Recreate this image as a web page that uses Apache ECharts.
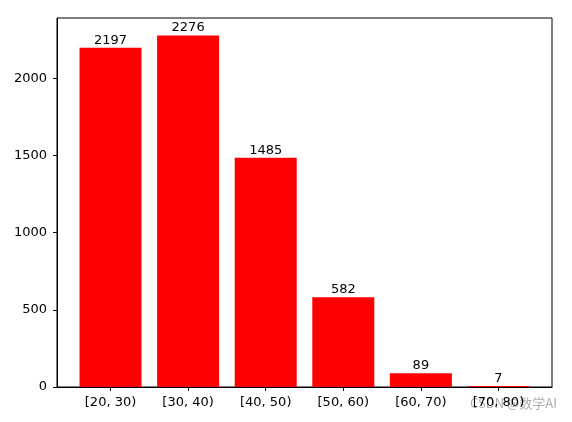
<!DOCTYPE html>
<html>
<head>
<meta charset="utf-8">
<script src="https://cdn.jsdelivr.net/npm/echarts@6/dist/echarts.min.js"></script>
<style>html,body{margin:0;padding:0;background:#fff}#c{width:572px;height:422px}</style>
</head>
<body>
<div id="c"></div>
<script>
const categories = ["[20, 30)", "[30, 40)", "[40, 50)", "[50, 60)", "[60, 70)", "[70, 80)"];
const counts = [2197, 2276, 1485, 582, 89, 7];
const yTicks = [0, 500, 1000, 1500, 2000];
const watermark = "CSDN @数学AI";

const positions = categories.map((c, i) => i);
const barData = counts.map((v, i) => [positions[i], v]);
const n = categories.length;
const xMin = -0.4 - 0.05 * (n - 1 + 0.8);
const xMax = (n - 1) + 0.4 + 0.05 * (n - 1 + 0.8);
const yMax = Math.max(...counts) * 1.05;

const font = "DejaVu Sans";
const chart = echarts.init(document.getElementById('c'), null, {renderer: 'canvas'});
chart.setOption({
  animation: false,
  backgroundColor: '#fff',
  grid: {left: 57, right: 20, top: 18, bottom: 35, show: true, borderColor: '#000', borderWidth: 1, backgroundColor: 'transparent'},
  xAxis: {
    type: 'value', min: xMin, max: xMax,
    splitLine: {show: false},
    axisLine: {show: true, onZero: false, lineStyle: {color: '#000', width: 1}},
    axisTick: {show: true, length: 4, lineStyle: {color: '#000'}, customValues: positions},
    axisLabel: {customValues: positions, margin: 9, color: '#000', fontFamily: font, fontSize: 13,
      formatter: v => categories[Math.round(v)] || ''}
  },
  yAxis: {
    type: 'value', min: 0, max: yMax,
    splitLine: {show: false},
    axisLine: {show: true, onZero: false, lineStyle: {color: '#000', width: 1}},
    axisTick: {show: true, length: 4, lineStyle: {color: '#000'}, customValues: yTicks},
    axisLabel: {customValues: yTicks, margin: 10, color: '#000', fontFamily: font, fontSize: 13,
      formatter: v => String(v)}
  },
  series: [{
    type: 'bar',
    data: barData,
    barWidth: 62,
    itemStyle: {color: '#ff0000'},
    label: {show: true, position: 'top', distance: 1, color: '#000', fontFamily: font, fontSize: 13,
      formatter: p => String(p.value[1])}
  }],
  graphic: [{
    type: 'text', right: 15, top: 397,
    style: {text: watermark, fill: 'rgba(160,160,160,0.85)', font: '13px "Noto Sans CJK SC", "DejaVu Sans"'}
  }]
});
</script>
</body>
</html>
